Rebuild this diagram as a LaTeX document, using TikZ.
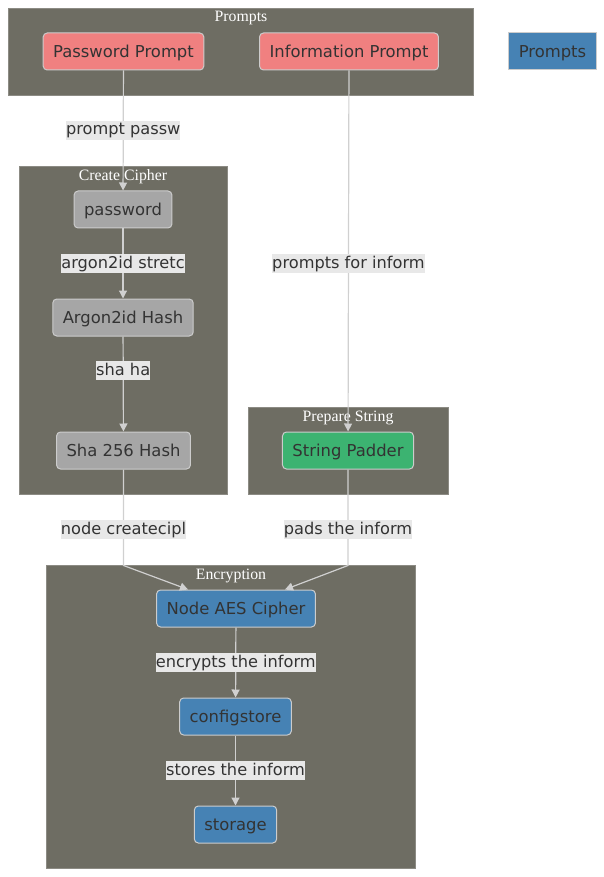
\documentclass[tikz,border=0pt]{standalone}
\usepackage{fontspec}
\setmainfont{DejaVu Sans}
\newfontfamily\titlefont{Liberation Serif}
\usetikzlibrary{positioning,arrows.meta}
\definecolor{clusterbg}{HTML}{6E6D63}
\definecolor{clusterline}{HTML}{8C8B84}
\definecolor{boxline}{HTML}{CCCCCC}
\definecolor{ink}{HTML}{333333}
\definecolor{edgeline}{HTML}{D0D0D0}
\definecolor{labelbg}{HTML}{E8E8E8}
\definecolor{promptred}{HTML}{F08080}
\definecolor{cipherblue}{HTML}{4682B4}
\definecolor{padgreen}{HTML}{3CB371}
\definecolor{hashgray}{HTML}{A6A6A6}

\begin{document}
\begin{tikzpicture}[x=1pt,y=-1pt,
  box/.style={draw=boxline, line width=1pt, rounded corners=4pt,
    minimum height=37pt, inner xsep=10pt, text=ink,
    text height=14pt, text depth=2pt,
    font=\fontsize{16.4}{19}\selectfont},
  cluster/.style={fill=clusterbg, draw=clusterline, line width=0.8pt},
  clustertitle/.style={text=white, inner sep=0pt,
    font=\titlefont\fontsize{15.8}{18}\selectfont},
  lbl/.style={fill=labelbg, text=ink, inner xsep=0pt, inner ysep=1.5pt,
    text height=12.5pt, text depth=3.5pt,
    font=\fontsize{16.2}{19}\selectfont},
  flow/.style={draw=edgeline, line width=1.2pt,
    -{Triangle[width=8pt,length=8pt]}}]
  \useasboundingbox (0,0) rectangle (604,877);
  \fill[white] (0,0) rectangle (604,877);

  % clusters
  \draw[cluster] (8,8) rectangle (473,95);
  \node[clustertitle] (promptsTitle) at (241,18.5) {Prompts};
  \draw[cluster] (19,166) rectangle (227,494);
  \node[clustertitle] (cipherTitle) at (123,176.5) {Create Cipher};
  \draw[cluster] (248,407) rectangle (448,494);
  \node[clustertitle] (prepareTitle) at (348,417.5) {Prepare String};
  \draw[cluster] (46,565) rectangle (415,868);
  \node[clustertitle] (encTitle) at (231,575.5) {Encryption};

  % nodes
  \node[box, fill=promptred] (pwPrompt) at (123.5,51.5) {Password Prompt};
  \node[box, fill=promptred] (infoPrompt) at (349,51.5) {Information Prompt};
  \node[box, fill=cipherblue, rounded corners=0pt] (legend) at (552.5,51.5) {Prompts};
  \node[box, fill=hashgray] (password) at (123,209.5) {password};
  \node[box, fill=hashgray] (argon) at (123,317.5) {Argon2id Hash};
  \node[box, fill=hashgray] (sha) at (123.5,450.5) {Sha 256 Hash};
  \node[box, fill=padgreen] (padder) at (348,450.5) {String Padder};
  \node[box, fill=cipherblue] (aes) at (236,608.5) {Node AES Cipher};
  \node[box, fill=cipherblue] (config) at (235.5,716.5) {configstore};
  \node[box, fill=cipherblue] (storage) at (235.5,824.5) {storage};

  % edges
  \draw[flow] (pwPrompt) -- node[lbl] {prompt passw} (password);
  \draw[flow] (infoPrompt) -- node[lbl, pos=0.535] {prompts for inform} (padder);
  \draw[flow] (password) -- node[lbl] {argon2id stretc} (argon);
  \draw[flow] (argon) -- node[lbl, pos=0.36] {sha ha} (sha);
  \draw[flow] (sha.south) -- node[lbl, pos=0.625] {node createcipl} ++(0,96)
    -- ([xshift=-48pt]aes.north);
  \draw[flow] (padder.south) -- node[lbl, pos=0.625] {pads the inform} ++(0,96)
    -- ([xshift=49pt]aes.north);
  \draw[flow] (aes) -- node[lbl] {encrypts the inform} (config);
  \draw[flow] (config) -- node[lbl] {stores the inform} (storage);
\end{tikzpicture}
\end{document}
